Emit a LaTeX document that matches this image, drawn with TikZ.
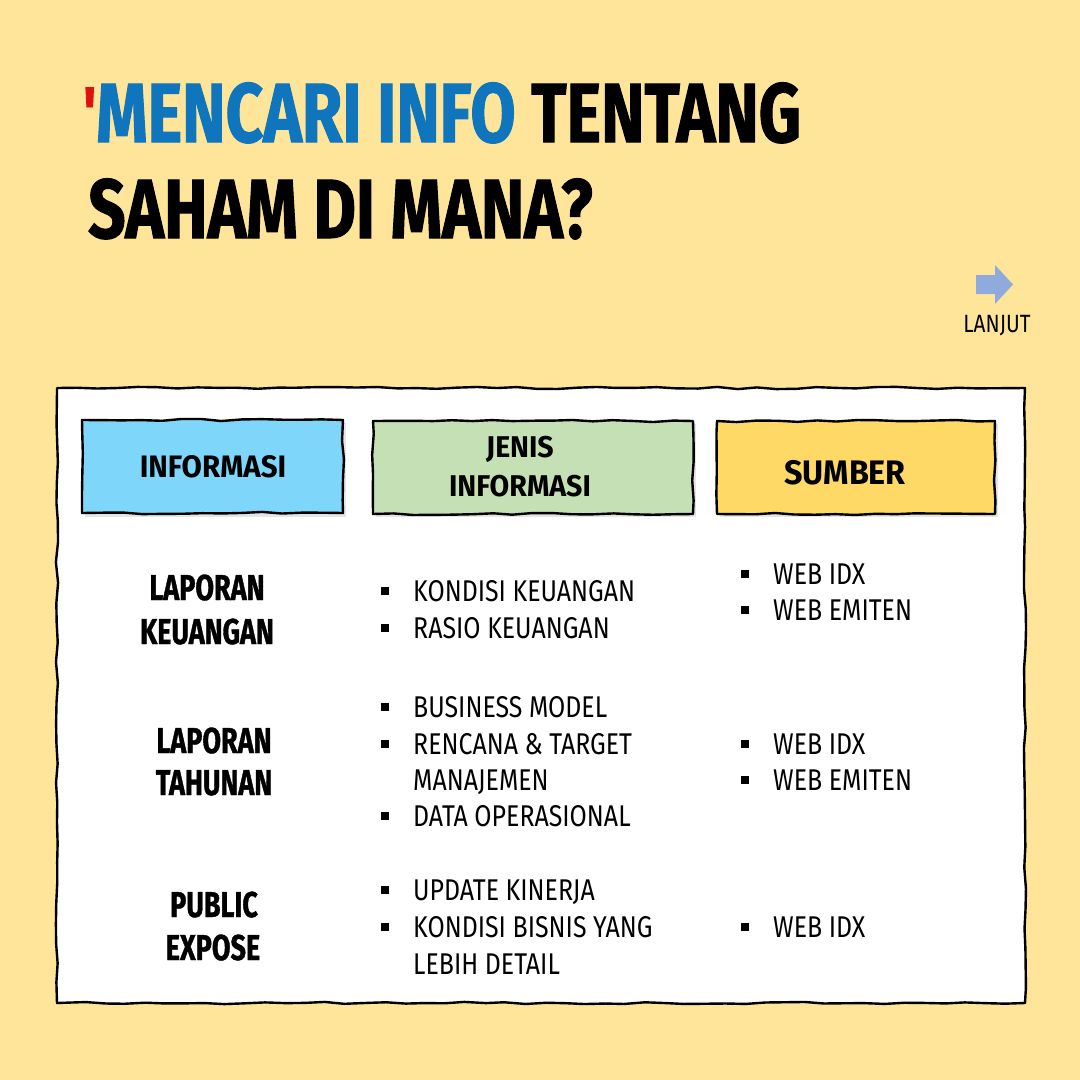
\documentclass[tikz,border=0pt]{standalone}
\usepackage{fontspec}
\setmainfont{Fira Sans}
\newfontfamily\titlefont[FakeStretch=0.78,FakeBold=1.2]{Fira Sans}
\newfontfamily\bodyfont[FakeStretch=0.83]{Fira Sans}
\newfontfamily\rowfont[FakeStretch=0.75,FakeBold=1]{Fira Sans}
\newfontfamily\headfont[FakeStretch=0.95]{Fira Sans}
\usetikzlibrary{decorations.pathmorphing}
\definecolor{bg}{HTML}{FFE599}
\definecolor{tblue}{HTML}{0F75BD}
\definecolor{tred}{HTML}{E01010}
\definecolor{arrowblue}{HTML}{8FAADC}
\definecolor{hblue}{HTML}{7FD6FB}
\definecolor{hgreen}{HTML}{C5E0B4}
\definecolor{hgold}{HTML}{FFD966}
\tikzset{
  sketch/.style={draw=black, line width=2.4pt, line join=round,
    decorate, decoration={random steps, segment length=20pt, amplitude=1.1pt}},
  headbox/.style={sketch},
  headtext/.style={font=\headfont\bfseries\fontsize{31}{38}\selectfont, align=center, text=black},
  rowtext/.style={font=\rowfont\bfseries\fontsize{36}{42}\selectfont, anchor=base, text=black},
  itemtext/.style={font=\bodyfont\fontsize{30}{36}\selectfont, anchor=base west, text=black, inner sep=0pt},
  bul/.style={rectangle, fill=black, minimum size=8pt, inner sep=0pt},
}
\begin{document}
\begin{tikzpicture}[x=1pt,y=-1pt]
\pgfmathsetseed{7}
\fill[bg] (0,0) rectangle (1080,1080);
\path[use as bounding box] (0,0) rectangle (1080,1080);

% title
\node[font=\titlefont\bfseries\fontsize{84}{90}\selectfont, anchor=base west, inner sep=0pt] (title1) at (83,142)
  {\textcolor{tred}{\raisebox{6pt}{\fontsize{70}{70}\selectfont\char"0027}}\textcolor{tblue}{MENCARI INFO} TENTANG};
\node[font=\titlefont\bfseries\fontsize{84}{90}\selectfont, anchor=base west, inner sep=0pt] (title2) at (88,238)
  {SAHAM DI MANA?};

% next arrow
\fill[arrowblue] (976,275) -- (995,275) -- (995,265) -- (1013,284.5) -- (995,304) -- (995,294) -- (976,294) -- cycle;
\node[font=\bodyfont\fontsize{25}{28}\selectfont, anchor=base, inner sep=0pt] (lanjut) at (997,332) {LANJUT};

% panel
\path[sketch, fill=white] (57,388) -- (1025,388) -- (1025,1003) -- (57,1003) -- cycle;

% header boxes
\fill[black!10] (85,423) rectangle (346,517);
\fill[black!10] (376,424) rectangle (696,517);
\fill[black!10] (720,424) rectangle (998,517);
\path[headbox, fill=hblue] (82,420) -- (343,420) -- (343,513) -- (82,513) -- cycle;
\path[headbox, fill=hgreen] (373,421) -- (693,421) -- (693,514) -- (373,514) -- cycle;
\path[headbox, fill=hgold] (717,421) -- (995,421) -- (995,514) -- (717,514) -- cycle;
\node[headtext] (h1) at (213,467) {INFORMASI};
\node[headtext, font=\headfont\bfseries\fontsize{30}{39}\selectfont] (h2) at (520,467) {JENIS\\INFORMASI};
\node[headtext, font=\headfont\bfseries\fontsize{34}{40}\selectfont] (h3) at (845,473) {SUMBER};

% row labels
\node[rowtext] (r1a) at (207,600) {LAPORAN};
\node[rowtext] (r1b) at (207,644) {KEUANGAN};
\node[rowtext] (r2a) at (214,753) {LAPORAN};
\node[rowtext] (r2b) at (214,795) {TAHUNAN};
\node[rowtext] (r3a) at (214,917) {PUBLIC};
\node[rowtext] (r3b) at (213,960) {EXPOSE};

% column 2 items
\node[bul] (b21) at (385,591) {}; \node[itemtext] (t21) at (413,601.5) {KONDISI KEUANGAN};
\node[bul] (b22) at (385,628) {}; \node[itemtext] (t22) at (413,638.5) {RASIO KEUANGAN};
\node[bul] (b23) at (385,707) {}; \node[itemtext] (t23) at (413,717.5) {BUSINESS MODEL};
\node[bul] (b24) at (385,744) {}; \node[itemtext] (t24) at (413,754.5) {RENCANA \& TARGET};
\node[itemtext] (t24b) at (413,790.5) {MANAJEMEN};
\node[bul] (b25) at (385,816) {}; \node[itemtext] (t25) at (413,826.5) {DATA OPERASIONAL};
\node[bul] (b26) at (385,890) {}; \node[itemtext] (t26) at (413,900.5) {UPDATE KINERJA};
\node[bul] (b27) at (385,927) {}; \node[itemtext] (t27) at (413,937.5) {KONDISI BISNIS YANG};
\node[itemtext] (t27b) at (413,974.5) {LEBIH DETAIL};

% column 3 items
\node[bul] (b31) at (745,574) {}; \node[itemtext] (t31) at (773,584.5) {WEB IDX};
\node[bul] (b32) at (745,610) {}; \node[itemtext] (t32) at (773,620.5) {WEB EMITEN};
\node[bul] (b33) at (745,744) {}; \node[itemtext] (t33) at (773,754.5) {WEB IDX};
\node[bul] (b34) at (745,780) {}; \node[itemtext] (t34) at (773,790.5) {WEB EMITEN};
\node[bul] (b35) at (745,927) {}; \node[itemtext] (t35) at (773,937.5) {WEB IDX};
\end{tikzpicture}
\end{document}
